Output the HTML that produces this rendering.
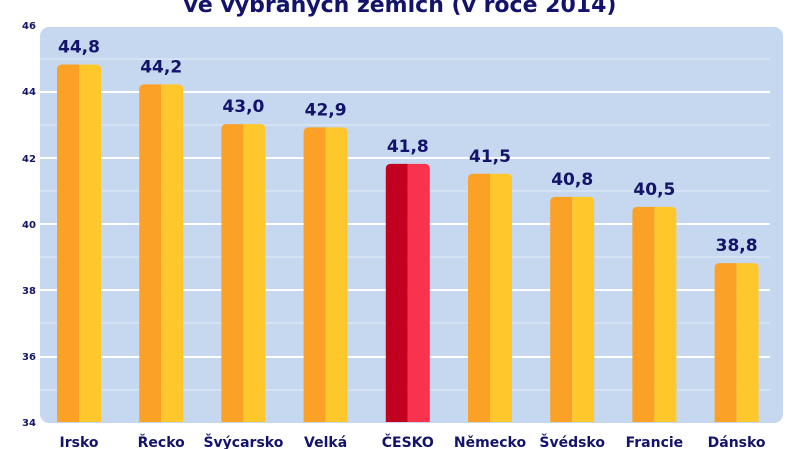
<!DOCTYPE html>
<html><head><meta charset="utf-8"><style>
html,body{margin:0;padding:0;background:#fff;width:800px;height:449px;overflow:hidden}
text{font-family:"DejaVu Sans","Liberation Sans",sans-serif;font-weight:bold;fill:#13136b}
</style></head><body>
<svg width="800" height="449" viewBox="0 0 800 449" xmlns="http://www.w3.org/2000/svg">
<text x="400" y="12" text-anchor="middle" font-size="22">ve vybraných zemích (v roce 2014)</text>
<rect x="40" y="27" width="743" height="396" rx="9" fill="#c5d8ef"/>
<g stroke="#ffffff">
<line x1="40" x2="770" y1="92" y2="92" stroke-width="2"/>
<line x1="40" x2="770" y1="158" y2="158" stroke-width="2"/>
<line x1="40" x2="770" y1="224" y2="224" stroke-width="2"/>
<line x1="40" x2="770" y1="290" y2="290" stroke-width="2"/>
<line x1="40" x2="770" y1="357" y2="357" stroke-width="2"/>
<g stroke-width="1" opacity="0.5">
<line x1="40" x2="770" y1="59" y2="59"/><line x1="40" x2="770" y1="125" y2="125"/>
<line x1="40" x2="770" y1="191" y2="191"/><line x1="40" x2="770" y1="257" y2="257"/>
<line x1="40" x2="770" y1="323" y2="323"/><line x1="40" x2="770" y1="390" y2="390"/>
</g></g>
<g font-size="10" text-anchor="middle">
<text x="29" y="29">46</text><text x="29" y="95">44</text><text x="29" y="162">42</text>
<text x="29" y="228">40</text><text x="29" y="294">38</text><text x="29" y="360">36</text><text x="29" y="426">34</text>
</g>
<g id="bars"></g>
</svg>
<script>
var d=[["Irsko",44.8],["Řecko",44.2],["Švýcarsko",43.0],["Velká",42.9],["ČESKO",41.8],["Německo",41.5],["Švédsko",40.8],["Francie",40.5],["Dánsko",38.8]];
var g=document.getElementById("bars"),s="",ns="http://www.w3.org/2000/svg";
d.forEach(function(e,i){var c=79+i*82.2,top=422-(e[1]-34)*33.1,h=422-top;
var a=i==4?"#c2001f":"#fba125",b=i==4?"#f9334d":"#fec82d";
s+='<path d="M'+(c-22)+' 422 V'+(top+5)+' q0 -5 5 -5 H'+c+' V422Z" fill="'+a+'"/>';
s+='<path d="M'+c+' 422 V'+top+' H'+(c+17)+' q5 0 5 5 V422Z" fill="'+b+'"/>';
s+='<text x="'+c+'" y="'+(top-12)+'" text-anchor="middle" font-size="17">'+e[1].toFixed(1).replace(".",",")+'</text>';
s+='<text x="'+c+'" y="447" text-anchor="middle" font-size="14">'+e[0]+'</text>';});
g.innerHTML=s;
</script>
</body></html>
